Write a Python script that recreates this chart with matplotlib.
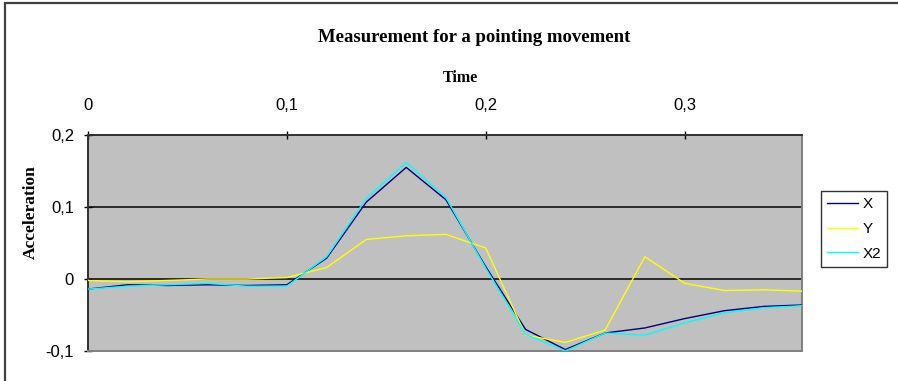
import matplotlib
matplotlib.use("Agg")
import matplotlib.pyplot as plt
from matplotlib.patches import Rectangle

# time axis (s) and measured acceleration for the three channels
time = [0.00, 0.02, 0.04, 0.06, 0.08, 0.10, 0.12, 0.14, 0.16, 0.18,
        0.20, 0.22, 0.24, 0.26, 0.28, 0.30, 0.32, 0.34, 0.36]
acc_x = [-0.014, -0.008, -0.009, -0.008, -0.009, -0.008, 0.029, 0.107, 0.155, 0.110,
         0.017, -0.070, -0.098, -0.075, -0.068, -0.055, -0.044, -0.038, -0.036]
acc_y = [-0.002, -0.004, -0.002, 0.000, 0.000, 0.002, 0.016, 0.055, 0.060, 0.062,
         0.043, -0.078, -0.088, -0.071, 0.031, -0.006, -0.016, -0.015, -0.017]
acc_x2 = [-0.014, -0.010, -0.008, -0.006, -0.010, -0.010, 0.031, 0.112, 0.162, 0.113,
          0.015, -0.077, -0.100, -0.075, -0.078, -0.061, -0.047, -0.040, -0.037]

x_ticks = [0, 0.1, 0.2, 0.3]
x_tick_labels = ["0", "0,1", "0,2", "0,3"]
y_ticks = [-0.1, 0, 0.1, 0.2]
y_tick_labels = ["-0,1", "0", "0,1", "0,2"]

fig = plt.figure(figsize=(8.98, 3.81), dpi=100)
ax = fig.add_axes([88 / 898, 1 - 351 / 381, (802 - 88) / 898, (351 - 135) / 381])
ax.set_facecolor("#C0C0C0")

# outer chart border (only top/left visible in the reference)
fig.patches.append(Rectangle((5 / 898, -0.05), 1.2, 1 - 3 / 381 + 0.05,
                             transform=fig.transFigure, fill=False,
                             edgecolor="#404040", linewidth=1.6))

for y in [0, 0.1]:
    ax.axhline(y, color="#202020", linewidth=1.3, zorder=1)

ax.plot(time, acc_x, color="#000080", linewidth=1.0, label="X", zorder=3)
ax.plot(time, acc_y, color="#FFFF00", linewidth=1.0, label="Y", zorder=3)
ax.plot(time, acc_x2, color="#00FFFF", linewidth=1.0, label="X2", zorder=3)

ax.set_xlim(0, 0.359)
ax.set_ylim(-0.1, 0.2)
ax.xaxis.tick_top()
ax.set_xticks(x_ticks)
ax.set_xticklabels(x_tick_labels)
ax.set_yticks(y_ticks)
ax.set_yticklabels(y_tick_labels)
ax.tick_params(axis="both", direction="inout", length=6, width=1, colors="#000000",
               labelsize=12)
ax.tick_params(axis="x", pad=13)
ax.tick_params(axis="y", pad=7)
for lab in ax.get_xticklabels() + ax.get_yticklabels():
    lab.set_fontfamily("Liberation Sans")

ax.spines["top"].set_color("#303030")
ax.spines["left"].set_color("#303030")
ax.spines["top"].set_linewidth(1.4)
ax.spines["left"].set_linewidth(1.4)
ax.spines["right"].set_color("#808080")
ax.spines["bottom"].set_color("#808080")
ax.spines["right"].set_linewidth(1.4)
ax.spines["bottom"].set_linewidth(1.4)

fig.text(474 / 898, 1 - 37 / 381, "Measurement for a pointing movement",
         ha="center", va="center", fontsize=13.5, fontweight="bold",
         family="Liberation Serif")
fig.text(460 / 898, 1 - 78 / 381, "Time", ha="center", va="center",
         fontsize=11.5, fontweight="bold", family="Liberation Serif")
fig.text(31 / 898, 1 - 212 / 381, "Acceleration", ha="center", va="center",
         rotation=90, fontsize=12.5, fontweight="bold", family="Liberation Serif")

leg = fig.legend(loc="center left", bbox_to_anchor=(821 / 898, 1 - 229 / 381),
                 frameon=True, fancybox=False, edgecolor="#000000",
                 prop={"family": "Liberation Sans", "size": 11},
                 handlelength=2.0, handletextpad=0.3, borderpad=0.4,
                 labelspacing=0.7, borderaxespad=0)
leg.get_frame().set_linewidth(1.0)

fig.savefig("out.png", dpi=100)
